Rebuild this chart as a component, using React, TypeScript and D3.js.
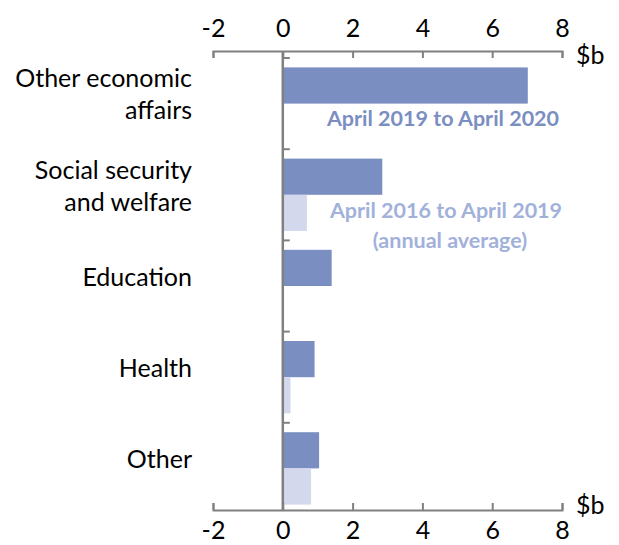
import React, { useEffect, useRef } from 'react';
import * as d3 from 'd3';

// Categories (top to bottom) and values in $b
const categories = ['Other economic affairs', 'Social security and welfare', 'Education', 'Health', 'Other'];
const labelLines = [['Other economic', 'affairs'], ['Social security', 'and welfare'], ['Education'], ['Health'], ['Other']];
const recentValues = [7.02, 2.85, 1.4, 0.91, 1.04];
const averageValues = [0, 0.69, 0, 0.22, 0.81];
const xTicks = [-2, 0, 2, 4, 6, 8];

const DARK = '#7b8ec2';
const LIGHT = '#d3d8ec';
const LABEL_LIGHT = '#a1b1da';
const AXIS = '#808080';
const FONT = 'Lato, "Open Sans", sans-serif';

export default function App() {
  const ref = useRef<SVGSVGElement>(null);

  useEffect(() => {
    if (!ref.current) return;
    const svg = d3.select(ref.current);
    svg.selectAll('*').remove();

    const x = d3.scaleLinear().domain([-2, 8]).range([213, 562]);
    const y = d3.scaleBand<string>().domain(categories).range([58, 514]).padding(0);
    const sub = d3.scaleBand<string>().domain(['recent', 'average']).range([0, y.bandwidth()]).paddingInner(0).paddingOuter(0.26);

    const topY = 51;
    const bottomY = 510;

    // Bars
    const rows = categories.map((c, i) => ({ c, recent: recentValues[i], average: averageValues[i] }));
    const g = svg.append('g');
    g.selectAll('rect.recent')
      .data(rows)
      .enter()
      .append('rect')
      .attr('x', x(0))
      .attr('y', d => (y(d.c) as number) + (sub('recent') as number))
      .attr('width', d => x(d.recent) - x(0))
      .attr('height', sub.bandwidth())
      .attr('fill', DARK);
    g.selectAll('rect.average')
      .data(rows.filter(d => d.average > 0))
      .enter()
      .append('rect')
      .attr('x', x(0))
      .attr('y', d => (y(d.c) as number) + (sub('average') as number))
      .attr('width', d => x(d.average) - x(0))
      .attr('height', sub.bandwidth())
      .attr('fill', LIGHT);

    const fmt = (d: d3.NumberValue) => String(d);
    // Top axis
    const top = svg.append('g')
      .attr('transform', `translate(0,${topY})`)
      .call(d3.axisTop(x).tickValues(xTicks).tickSizeInner(-7).tickSizeOuter(-7).tickPadding(14).tickFormat(fmt));
    // Bottom axis
    const bottom = svg.append('g')
      .attr('transform', `translate(0,${bottomY})`)
      .call(d3.axisBottom(x).tickValues(xTicks).tickSizeInner(-7).tickSizeOuter(-7).tickPadding(11).tickFormat(fmt));

    [top, bottom].forEach(a => {
      a.select('.domain').attr('stroke', AXIS).attr('stroke-width', 2);
      a.selectAll('.tick line').attr('stroke', AXIS).attr('stroke-width', 2);
      a.selectAll('.tick text')
        .attr('fill', '#000')
        .style('font-family', FONT)
        .style('font-size', '25px');
    });

    // Zero line and category ticks
    svg.append('line')
      .attr('x1', x(0)).attr('x2', x(0))
      .attr('y1', topY).attr('y2', bottomY)
      .attr('stroke', AXIS).attr('stroke-width', 2.5);
    svg.selectAll('line.cat')
      .data(categories)
      .enter()
      .append('line')
      .attr('x1', x(0)).attr('x2', x(0) + 7)
      .attr('y1', d => y(d) as number).attr('y2', d => y(d) as number)
      .attr('stroke', AXIS).attr('stroke-width', 2);

    // Unit labels
    [topY + 4, bottomY - 5].forEach(yy => {
      svg.append('text')
        .attr('x', 576).attr('y', yy)
        .attr('dy', '0.35em')
        .style('font-family', FONT).style('font-size', '25px')
        .text('$b');
    });

    // Category labels
    categories.forEach((c, i) => {
      const lines = labelLines[i];
      const cy = (y(c) as number) + y.bandwidth() / 2 - 9;
      const lh = 32;
      lines.forEach((l, j) => {
        svg.append('text')
          .attr('x', 192)
          .attr('y', cy + (j - (lines.length - 1) / 2) * lh)
          .attr('dy', '0.35em')
          .attr('text-anchor', 'end')
          .style('font-family', FONT).style('font-size', '25px')
          .text(l);
      });
    });

    // Series labels
    const lbl = (t: string, xx: number, yy: number, col: string) =>
      svg.append('text')
        .attr('x', xx).attr('y', yy).attr('dy', '0.35em')
        .attr('text-anchor', 'middle')
        .attr('fill', col)
        .style('font-family', FONT).style('font-size', '21.5px').style('font-weight', 'bold')
        .text(t);
    lbl('April 2019 to April 2020', 443, 118, DARK);
    lbl('April 2016 to April 2019', 446, 210, LABEL_LIGHT);
    lbl('(annual average)', 450, 240, LABEL_LIGHT);
  }, []);

  return (
    <svg
      ref={ref}
      width={619}
      height={545}
      style={{ position: 'absolute', left: 0, top: 0, background: '#fff' }}
    />
  );
}
